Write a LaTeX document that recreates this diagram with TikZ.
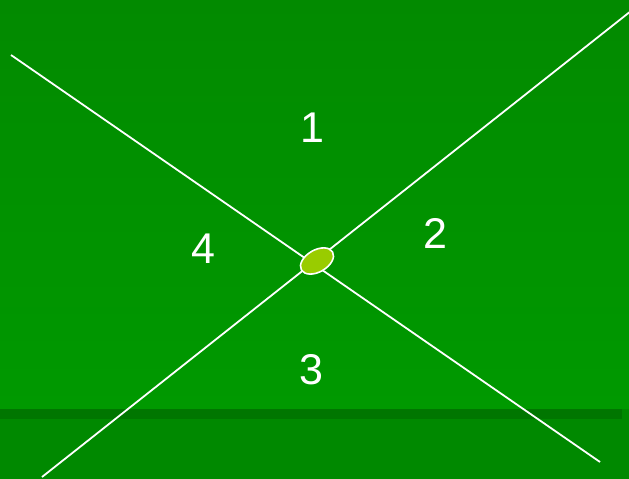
\documentclass[tikz,border=0pt]{standalone}
\usepackage{fontspec}
\setmainfont{Liberation Sans}
\usetikzlibrary{shapes.geometric}
\definecolor{fieldtop}{RGB}{2,138,0}
\definecolor{fieldlow}{RGB}{0,153,0}
\definecolor{fieldbase}{RGB}{0,137,0}
\definecolor{stripe}{RGB}{0,118,0}
\definecolor{spot}{RGB}{153,204,0}

\begin{document}
\begin{tikzpicture}[
        x=1pt, y=1pt,
        quadrant/.style={text=white, font=\fontsize{43}{43}\selectfont, inner sep=0pt},
        crossline/.style={draw=white, line width=1.8pt},
        hub/.style={ellipse, draw=white, line width=1.6pt, fill=spot,
            minimum width=36pt, minimum height=22pt, inner sep=0pt, rotate=30}
    ]
        % background
        \useasboundingbox (0,0) rectangle (629,479);
        \shade[top color=fieldtop, bottom color=fieldlow] (0,70) rectangle (629,479);
        \fill[fieldbase] (0,0) rectangle (629,70);
        \fill[stripe] (0,60) rectangle (622,70);

        % the two lines
        \coordinate (a1) at (11,424);
        \coordinate (a2) at (600,17);
        \coordinate (b1) at (42,2);
        \coordinate (b2) at (631,468);
        \draw[crossline] (a1) -- (a2);
        \draw[crossline] (b1) -- (b2);

        \node[hub] (hub) at (317,218) {};

        \node[quadrant] (q1) at (312,351) {1};
        \node[quadrant] (q2) at (435,246) {2};
        \node[quadrant] (q3) at (311,109) {3};
        \node[quadrant] (q4) at (203,230) {4};
\end{tikzpicture}
\end{document}
